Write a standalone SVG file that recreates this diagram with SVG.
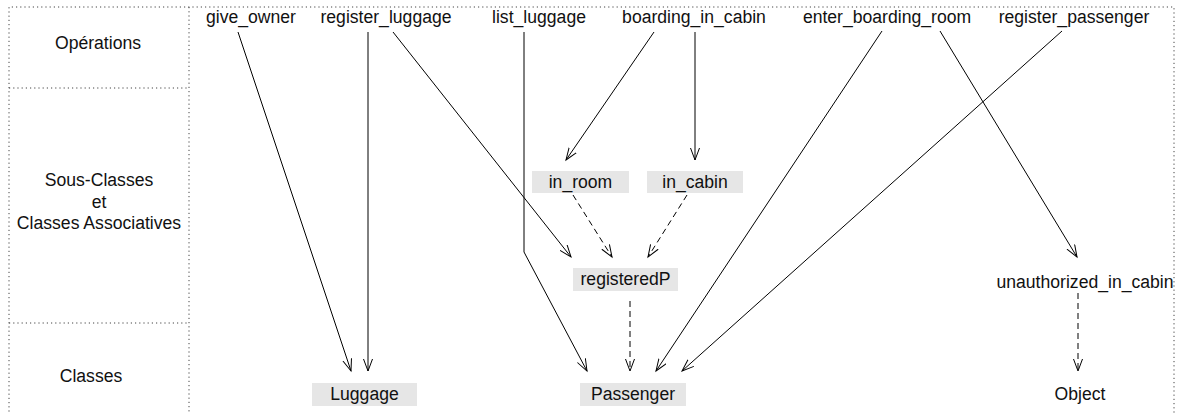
<svg xmlns="http://www.w3.org/2000/svg" width="1177" height="414" viewBox="0 0 1177 414">
<style>
text{font-family:"Liberation Sans",Arial,Helvetica,sans-serif;font-size:17.6px;fill:#111;text-anchor:middle}
.frame{fill:none;stroke:#444;stroke-width:1;stroke-dasharray:1.2,3}
.box{fill:#e6e6e6;stroke:none}
.solid{fill:none;stroke:#000;stroke-width:1;marker-end:url(#arr)}
.dash{fill:none;stroke:#000;stroke-width:1;stroke-dasharray:6,4;marker-end:url(#arr)}
</style>
<defs>
<marker id="arr" markerUnits="userSpaceOnUse" markerWidth="14" markerHeight="12" refX="12" refY="5" orient="auto" viewBox="0 0 14 12">
<path d="M0,0.5 L12,5 L0,9.5" fill="none" stroke="#000" stroke-width="1"/>
</marker>
</defs>
<rect width="1177" height="414" fill="#fff"/>
<g id="frame">
<path class="frame" d="M9,420 V7 H1174 V420"/>
<path class="frame" d="M189,7 V420"/>
<path class="frame" d="M9,88 H189"/>
<path class="frame" d="M9,323 H189"/>
<text x="98" y="49">Opérations</text>
<text x="99" y="186">Sous-Classes</text>
<text x="99" y="208">et</text>
<text x="99" y="229">Classes Associatives</text>
<text x="91" y="382">Classes</text>
</g>
<g id="op-give_owner"><text x="251" y="23">give_owner</text></g>
<g id="op-register_luggage"><text x="386" y="23">register_luggage</text></g>
<g id="op-list_luggage"><text x="539" y="23">list_luggage</text></g>
<g id="op-boarding_in_cabin"><text x="694" y="23">boarding_in_cabin</text></g>
<g id="op-enter_boarding_room"><text x="887" y="23">enter_boarding_room</text></g>
<g id="op-register_passenger"><text x="1074" y="23">register_passenger</text></g>
<g id="node-in_room"><rect class="box" x="532" y="171" width="97" height="22"/><text x="580.5" y="188">in_room</text></g>
<g id="node-in_cabin"><rect class="box" x="647" y="171" width="96" height="22"/><text x="695" y="188">in_cabin</text></g>
<g id="node-registeredP"><rect class="box" x="573" y="268" width="105" height="23"/><text x="625.5" y="285">registeredP</text></g>
<g id="node-unauthorized_in_cabin"><text x="1085" y="288">unauthorized_in_cabin</text></g>
<g id="node-Luggage"><rect class="box" x="312" y="383" width="105" height="23"/><text x="364.5" y="400">Luggage</text></g>
<g id="node-Passenger"><rect class="box" x="580" y="383" width="106" height="23"/><text x="633" y="400">Passenger</text></g>
<g id="node-Object"><text x="1080" y="400">Object</text></g>
<g id="connectors">
<line class="solid" x1="238" y1="32" x2="351" y2="371"/>
<line class="solid" x1="368" y1="32" x2="368" y2="371"/>
<line class="solid" x1="393" y1="32" x2="571" y2="257"/>
<polyline class="solid" points="524,32 524,252 587,371"/>
<line class="solid" x1="654" y1="32" x2="566" y2="160"/>
<line class="solid" x1="695" y1="32" x2="695" y2="160"/>
<line class="solid" x1="882" y1="31" x2="656" y2="371"/>
<line class="solid" x1="940" y1="31" x2="1077" y2="257"/>
<line class="solid" x1="1062" y1="31" x2="682" y2="371"/>
<line class="dash" x1="573" y1="195" x2="612" y2="257"/>
<line class="dash" x1="687" y1="195" x2="648" y2="257"/>
<line class="dash" x1="630" y1="301" x2="630" y2="371"/>
<line class="dash" x1="1078" y1="293" x2="1078" y2="371"/>
</g>
</svg>
